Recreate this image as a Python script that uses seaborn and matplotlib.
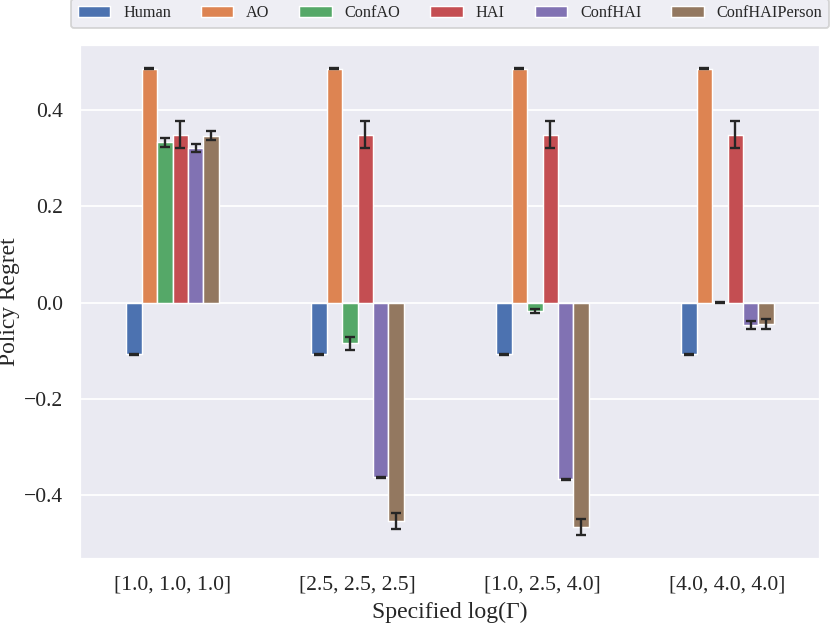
import numpy as np
import pandas as pd
import seaborn as sns
import matplotlib.pyplot as plt

# Specified log(Gamma) settings and policies
groups = ["[1.0, 1.0, 1.0]", "[2.5, 2.5, 2.5]", "[1.0, 2.5, 4.0]", "[4.0, 4.0, 4.0]"]
methods = ["Human", "AO", "ConfAO", "HAI", "ConfHAI", "ConfHAIPerson"]

# Mean policy regret per method (one value per group)
human = [-0.107, -0.107, -0.107, -0.107]
ao = [0.486, 0.486, 0.486, 0.486]
conf_ao = [0.333, -0.084, -0.017, 0.000]
hai = [0.349, 0.349, 0.349, 0.349]
conf_hai = [0.322, -0.362, -0.366, -0.046]
conf_hai_person = [0.347, -0.453, -0.466, -0.044]

# Error bar half-widths
human_err = [0.001, 0.001, 0.001, 0.001]
ao_err = [0.001, 0.001, 0.001, 0.001]
conf_ao_err = [0.009, 0.013, 0.005, 0.001]
hai_err = [0.028, 0.028, 0.028, 0.028]
conf_hai_err = [0.008, 0.001, 0.001, 0.008]
conf_hai_person_err = [0.009, 0.016, 0.017, 0.010]

means = [human, ao, conf_ao, hai, conf_hai, conf_hai_person]
errs = [human_err, ao_err, conf_ao_err, hai_err, conf_hai_err, conf_hai_person_err]

rows = []
for method, vals in zip(methods, means):
    for g, v in zip(groups, vals):
        rows.append({"Gamma": g, "Method": method, "Regret": v})
df = pd.DataFrame(rows)

sns.set_theme(style="darkgrid")
plt.rcParams["font.family"] = ["Liberation Serif", "DejaVu Serif"]

fig, ax = plt.subplots(figsize=(830 / 130, 623 / 130), dpi=130)
fig.subplots_adjust(left=0.0964, right=0.988, top=0.928, bottom=0.103)

sns.barplot(
    data=df,
    x="Gamma",
    y="Regret",
    hue="Method",
    order=groups,
    hue_order=methods,
    palette="deep",
    saturation=1,
    width=0.5,
    errorbar=None,
    edgecolor="white",
    linewidth=0.8,
    ax=ax
)

# Add the error bars on top of each bar
for container, vals, err in zip(ax.containers, means, errs):
    xs = [b.get_x() + b.get_width() / 2 for b in container]
    ax.errorbar(xs, vals, yerr=err, fmt="none", ecolor=".15",
                elinewidth=1.3, capsize=3, capthick=1.3, zorder=5)

ax.set_xlim(-0.5, 3.5)
ax.set_xlabel("Specified log(Γ)", fontsize=13.2)
ax.set_ylabel("Policy Regret", fontsize=13, labelpad=2)
ax.tick_params(axis="both", labelsize=12)

ax.legend(
    loc="lower center",
    bbox_to_anchor=(-0.012, 1.033, 1.024, 0.05),
    mode="expand",
    ncol=6,
    fontsize=9,
    borderaxespad=0
)

plt.savefig("out.png", dpi=130)
